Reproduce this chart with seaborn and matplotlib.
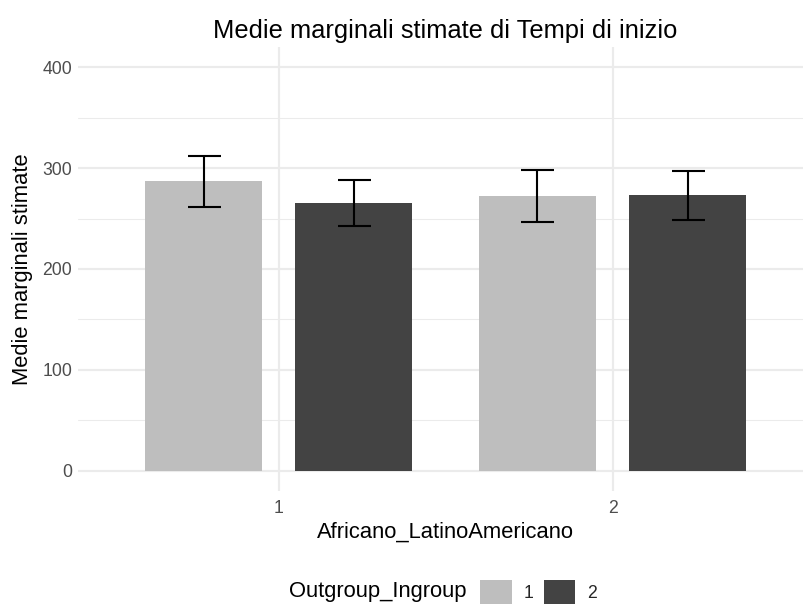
import matplotlib
matplotlib.use("Agg")
import matplotlib.pyplot as plt
import seaborn as sns
import pandas as pd
import numpy as np
from matplotlib.patches import Patch

# ---- data ----
x_levels = ["1", "2"]                      # Africano_LatinoAmericano
hue_levels = ["1", "2"]                    # Outgroup_Ingroup
means_h1 = [287.5, 272.6]
means_h2 = [265.7, 273.6]
lower_h1 = [261.7, 246.8]
upper_h1 = [312.0, 297.8]
lower_h2 = [242.6, 248.8]
upper_h2 = [288.5, 297.5]
y_ticks = [0, 100, 200, 300, 400]
y_minor = [50, 150, 250, 350]

title = "Medie marginali stimate di Tempi di inizio"
xlabel = "Africano_LatinoAmericano"
ylabel = "Medie marginali stimate"
legend_title = "Outgroup_Ingroup"
colors = ["#BEBEBE", "#434343"]

df = pd.DataFrame({
    "Africano_LatinoAmericano": x_levels * 2,
    "Outgroup_Ingroup": [hue_levels[0]] * 2 + [hue_levels[1]] * 2,
    "emmean": means_h1 + means_h2,
    "lower": lower_h1 + lower_h2,
    "upper": upper_h1 + upper_h2,
})

DPI = 108
W, H = 803, 607
S = 4 / 3
sns.set_theme(style="white")
plt.rcParams["font.family"] = ["Liberation Sans", "DejaVu Sans"]

fig = plt.figure(figsize=(W / DPI, H / DPI), dpi=DPI)
left, right, top, bottom = 78.3, 813.0, 47.3, 490.7
ax = fig.add_axes([left / W, 1 - bottom / H, (right - left) / W, (bottom - top) / H])

sns.barplot(data=df, x="Africano_LatinoAmericano", y="emmean",
            hue="Outgroup_Ingroup", order=x_levels, hue_order=hue_levels,
            palette=colors, width=0.9, gap=0.2222, errorbar=None,
            saturation=1, linewidth=0, legend=False, ax=ax, zorder=2)

for cont, lev in zip(ax.containers, hue_levels):
    sub = df[df["Outgroup_Ingroup"] == lev].set_index("Africano_LatinoAmericano").loc[x_levels]
    centers = [p.get_x() + p.get_width() / 2 for p in cont.patches]
    m = sub["emmean"].values
    ax.errorbar(centers, m, yerr=[m - sub["lower"].values, sub["upper"].values - m],
                fmt="none", ecolor="black", elinewidth=1.4, capsize=11,
                capthick=1.4, zorder=3)

ax.set_xlim(-0.6, 1.6)
ax.set_ylim(-20, 420)
ax.set_yticks(y_ticks)
ax.set_yticks(y_minor, minor=True)
ax.grid(True, which="major", color="#EBEBEB", linewidth=1.42, zorder=0)
ax.grid(True, which="minor", axis="y", color="#EBEBEB", linewidth=0.71, zorder=0)
ax.set_axisbelow(True)
for s in ax.spines.values():
    s.set_visible(False)
ax.tick_params(axis="both", which="both", length=0, labelsize=8.8 * S,
               labelcolor="#4D4D4D", pad=4)
ax.tick_params(axis="x", pad=6.5)
ax.set_xlabel(xlabel, fontsize=11 * S, color="black", labelpad=3)
ax.set_ylabel(ylabel, fontsize=11 * S, color="black", labelpad=6)
ax.set_title(title, fontsize=17.0, color="black", pad=6)

handles = [Patch(facecolor=c, edgecolor="none") for c in colors]
leg = fig.legend(handles, hue_levels, loc="center left",
                 bbox_to_anchor=(480 / W, 1 - 592 / H), ncol=2, frameon=False,
                 fontsize=8.8 * S, handlelength=1.8, handleheight=1.8,
                 handletextpad=0.7, columnspacing=0.55, borderpad=0,
                 borderaxespad=0)
fig.text(467 / W, 1 - 592 / H, legend_title, fontsize=11 * S, ha="right",
         va="center", color="black")

fig.savefig("out.png", dpi=DPI)
